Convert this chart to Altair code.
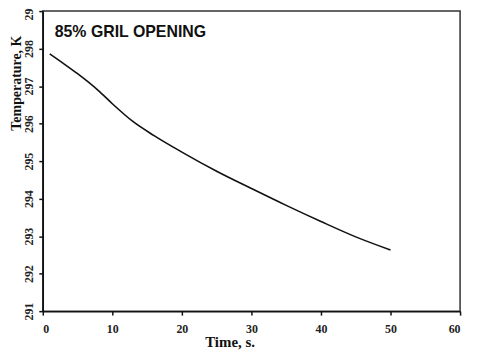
import altair as alt
import pandas as pd

time_s = [1, 3, 5, 8, 10, 13, 16, 20, 25, 30, 35, 40, 45, 50]
temp_k = [297.86, 297.60, 297.33, 296.88, 296.53, 296.05, 295.68, 295.24, 294.73, 294.27, 293.82, 293.39, 292.98, 292.63]

x_ticks = [0, 10, 20, 30, 40, 50, 60]
y_ticks = [291, 292, 293, 294, 295, 296, 297, 298, 299]
title_text = "85% GRIL OPENING"

df = pd.DataFrame({"t": time_s, "T": temp_k})

serif = "Liberation Serif"

line = alt.Chart(df).mark_line(color="#111111", strokeWidth=1.6, interpolate="monotone").encode(
    x=alt.X("t:Q", scale=alt.Scale(domain=[0, 60], nice=False),
            axis=alt.Axis(values=x_ticks, title="Time, s.", grid=False,
                          titleX=188, titleY=31, titleBaseline="middle",
                          labelPadding=8, tickSize=4)),
    y=alt.Y("T:Q", scale=alt.Scale(domain=[291, 299], nice=False, zero=False),
            axis=alt.Axis(values=y_ticks, title="Temperature, K", grid=False,
                          labelAngle=270, labelAlign="center", labelBaseline="bottom",
                          labelPadding=3, tickSize=4,
                          titleX=-26, titleY=72, titleAngle=270, titleFontSize=14,
                          titleAlign="center", titleBaseline="middle")),
)

label = alt.Chart(pd.DataFrame({"txt": [title_text]})).mark_text(
    align="left", baseline="middle", font="Liberation Sans", fontWeight="bold",
    fontSize=16, color="#111111"
).encode(x=alt.value(12), y=alt.value(21), text="txt:N")

chart = alt.layer(line, label).properties(
    width=420, height=302,
    autosize=alt.AutoSizeParams(type="none"),
    padding={"left": 35, "top": 2, "right": 12, "bottom": 40},
    background="white",
).configure_view(
    stroke="#333333", strokeWidth=1.5
).configure_axis(
    domainColor="#111111", domainWidth=1.5, tickColor="#111111", tickWidth=1.5,
    labelFont=serif, labelFontWeight="bold", labelFontSize=12, labelColor="#222222",
    titleFont=serif, titleFontWeight="bold", titleFontSize=15, titleColor="#111111",
)

chart.save("out.html", embed_options={"renderer": "svg", "actions": False})
